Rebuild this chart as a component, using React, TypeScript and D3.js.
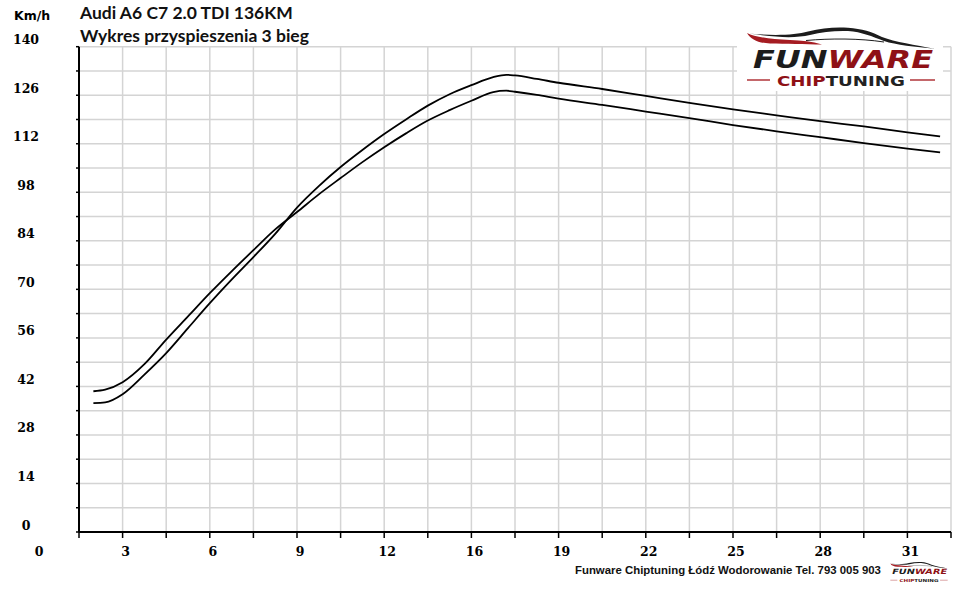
import * as d3 from "d3";

// time axis is in grid steps (0..20); labels are printed on odd steps
const timeSteps = [
    0.33, 0.6, 1, 1.5, 2, 2.5, 3, 3.5, 4, 4.5, 5, 5.5, 6, 6.5, 7, 7.5, 8, 8.5,
    9, 9.5, 9.8, 10, 10.5, 11, 12, 13, 14, 15, 16, 17, 18, 19, 19.75,
];
const speedStock = [
    40.6, 41.05, 43.2, 48.4, 55.5, 62.2, 68.9, 75.2, 81.3, 87.3, 92.3, 97.4,
    102.1, 106.7, 111.0, 115.0, 118.7, 121.7, 124.4, 126.9, 127.3, 127.0,
    126.1, 125.0, 123.2, 121.3, 119.4, 117.4, 115.6, 113.9, 112.2, 110.6, 109.5,
];
const speedTuned = [
    37.2, 37.4, 39.75, 45.4, 51.6, 58.8, 66.0, 72.8, 79.3, 86.0, 93.6, 99.8,
    105.3, 110.2, 114.8, 119.0, 123.0, 126.3, 128.9, 131.2, 131.9, 131.7,
    130.7, 129.6, 127.8, 125.8, 123.8, 121.9, 120.2, 118.5, 117.0, 115.3, 114.1,
];
const xTickSteps = [1, 3, 5, 7, 9, 11, 13, 15, 17, 19];
const xTickLabels = ["3", "6", "9", "12", "16", "19", "22", "25", "28", "31"];
const yTicks = [0, 14, 28, 42, 56, 70, 84, 98, 112, 126, 140];

const titleLines = ["Audi A6 C7 2.0 TDI 136KM", "Wykres przyspieszenia 3 bieg"];
const footerText = "Funware Chiptuning Łódź Wodorowanie Tel. 793 005 903";

const WIDTH = 960;
const HEIGHT = 589;
const plot = { left: 79, right: 951, top: 46.7, bottom: 532 };
const GRID = "#d4d4d4";
const DARK_RED = "#8e1116";

function Logo({ chipY = 85.5 }: { chipY?: number }) {
    return (
        <g>
            <path
                d="M747,33 C755,37 770,39 790,40 C802,40.6 812,41.5 822,44.5 C805,44.2 785,44 770,43.5 C759,43 751,40 747,33 Z"
                fill="#a51c22"
            />
            <path
                d="M749,33.5 C775,36 795,35 808,31.5 C822,28 835,27 848,27.8 C862,28.8 872,32 882,37 C895,42 915,45 935,48.8 C915,46.8 896,45 884,41 C872,36.5 862,32 848,31 C835,30.5 822,32 810,35 C795,38.5 775,37.5 749,33.5 Z"
                fill="#1c1c1c"
            />
            <path
                d="M806,40.5 C830,38.3 860,38.3 884,42"
                fill="none"
                stroke="#1c1c1c"
                strokeWidth={1}
            />
            <text
                x={753}
                y={68}
                fontFamily="DejaVu Sans"
                fontWeight="bold"
                fontStyle="italic"
                fontSize={24}
                textLength={180}
                lengthAdjust="spacingAndGlyphs"
            >
                <tspan fill="#1c1c1c">FUN</tspan>
                <tspan fill={DARK_RED}>WARE</tspan>
            </text>
            <line x1={747} x2={770} y1={chipY - 5.5} y2={chipY - 5.5} stroke="#b0353a" strokeWidth={1.5} />
            <line x1={910} x2={935} y1={chipY - 5.5} y2={chipY - 5.5} stroke="#b0353a" strokeWidth={1.5} />
            <text
                x={777}
                y={chipY}
                fontFamily="DejaVu Sans"
                fontWeight="bold"
                fontSize={13.5}
                textLength={128}
                lengthAdjust="spacingAndGlyphs"
            >
                <tspan fill={DARK_RED}>CHIP</tspan>
                <tspan fill="#222">TUNING</tspan>
            </text>
        </g>
    );
}

export default function App() {
    const x = d3.scaleLinear().domain([0, 20]).range([plot.left, plot.right]);
    const y = d3.scaleLinear().domain([0, 140]).range([plot.bottom, plot.top]);

    const gridX = d3.range(0, 21);
    const gridY = d3.range(0, 141, 7);

    const line = d3
        .line<number>()
        .x((_, i) => x(timeSteps[i]))
        .y((d) => y(d))
        .curve(d3.curveMonotoneX);

    const serif = "DejaVu Serif";

    return (
        <svg
            width={WIDTH}
            height={HEIGHT}
            style={{ position: "absolute", left: 0, top: 0, background: "#fff" }}
        >
            <rect width={WIDTH} height={HEIGHT} fill="#fff" />

            {/* grid */}
            {gridX.map((g) => (
                <line
                    key={`gx-${g}`}
                    x1={x(g)}
                    x2={x(g)}
                    y1={plot.top}
                    y2={plot.bottom}
                    stroke={GRID}
                    strokeWidth={1.5}
                />
            ))}
            {gridY.map((g) => (
                <line
                    key={`gy-${g}`}
                    x1={plot.left}
                    x2={plot.right}
                    y1={y(g)}
                    y2={y(g)}
                    stroke={GRID}
                    strokeWidth={1.5}
                />
            ))}

            {/* logo box hides the grid behind it */}
            <rect x={737} y={20} width={206} height={71} fill="#fff" />

            {/* axes */}
            <line x1={plot.left} x2={plot.left} y1={plot.top} y2={plot.bottom} stroke="#000" strokeWidth={2} />
            <line x1={plot.left} x2={plot.right} y1={plot.bottom} y2={plot.bottom} stroke="#000" strokeWidth={2} />
            {gridY.map((g) => (
                <line key={`ty-${g}`} x1={plot.left - 3} x2={plot.left} y1={y(g)} y2={y(g)} stroke="#000" strokeWidth={1.5} />
            ))}
            {gridX.map((g) => (
                <line key={`tx-${g}`} x1={x(g)} x2={x(g)} y1={plot.bottom} y2={plot.bottom + 6} stroke="#000" strokeWidth={1.5} />
            ))}

            {/* tick labels */}
            {yTicks.map((t) => (
                <text
                    key={`ly-${t}`}
                    x={26}
                    y={y(t) - 2.5}
                    textAnchor="middle"
                    fontFamily={serif}
                    fontWeight="bold"
                    fontSize={12.5}
                >
                    {t}
                </text>
            ))}
            <text x={39} y={556} textAnchor="middle" fontFamily={serif} fontWeight="bold" fontSize={12.5}>
                0
            </text>
            {xTickSteps.map((s, i) => (
                <text
                    key={`lx-${s}`}
                    x={x(s) + 3}
                    y={556}
                    textAnchor="middle"
                    fontFamily={serif}
                    fontWeight="bold"
                    fontSize={12.5}
                >
                    {xTickLabels[i]}
                </text>
            ))}

            {/* curves */}
            <path d={line(speedStock) || undefined} fill="none" stroke="#000" strokeWidth={1.8} />
            <path d={line(speedTuned) || undefined} fill="none" stroke="#000" strokeWidth={1.8} />

            {/* labels */}
            <text x={14} y={20} fontFamily="DejaVu Sans" fontWeight="bold" fontSize={12.5}>
                Km/h
            </text>
            {titleLines.map((t, i) => (
                <text key={t} x={80} y={19 + i * 23} fontFamily="Lato" fontWeight="bold" fontSize={17.5} fill="#111">
                    {t}
                </text>
            ))}
            <text
                x={575}
                y={573.5}
                fontFamily="Liberation Sans"
                fontWeight="bold"
                fontSize={11.4}
                fill="#111"
            >
                {footerText}
            </text>

            <Logo />
            <g transform="translate(662.5,553.5) scale(0.305)">
                <Logo chipY={93} />
            </g>
        </svg>
    );
}
